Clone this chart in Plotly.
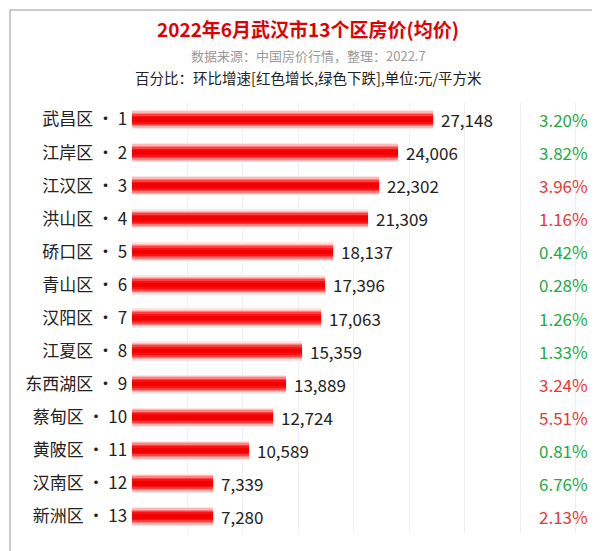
import plotly.graph_objects as go

districts = ["武昌区","江岸区","江汉区","洪山区","硚口区","青山区","汉阳区","江夏区","东西湖区","蔡甸区","黄陂区","汉南区","新洲区"]
prices = [27148,24006,22302,21309,18137,17396,17063,15359,13889,12724,10589,7339,7280]
pcts = ["3.20%","3.82%","3.96%","1.16%","0.42%","0.28%","1.26%","1.33%","3.24%","5.51%","0.81%","6.76%","2.13%"]
up = [False,False,True,True,False,False,False,False,True,True,False,False,True]

labels = [f"{d} · {i+1}" for i, d in enumerate(districts)]
fig = go.Figure()
layers = [(0.58, "#ffe4e4"), (0.50, "#ffb8b8"), (0.42, "#ff8080"), (0.34, "#ff4040"), (0.24, "#ff1010"), (0.14, "#f00000")]
for w, c in layers:
    fig.add_bar(y=labels, x=prices, orientation="h", width=w, marker=dict(color=c, line_width=0), hoverinfo="skip")
for lab, v, p, u in zip(labels, prices, pcts, up):
    fig.add_annotation(x=v, y=lab, text=f"{v:,}", showarrow=False, xanchor="left", xshift=6,
                       font=dict(size=17, color="#222"))
    fig.add_annotation(x=1, xref="paper", y=lab, yref="y", text=p, showarrow=False, xanchor="right", xshift=-8,
                       font=dict(size=17, color="#e53935" if u else "#22aa44"))
W, H = 600, 551
T, B, L = 95, 26, 124
PH = H - T - B
PW = 590 - L
cx = (300 - L) / PW
texts = [("2022年6月武汉市13个区房价(均价)", 21, 19, "#e00000", True),
         ("数据来源：中国房价行情，整理：2022.7", 48, 13, "#999", False),
         ("百分比：环比增速[红色增长,绿色下跌],单位:元/平方米", 70, 14.5, "#222", False)]
for t, ypx, s, c, b in texts:
    fig.add_annotation(x=cx, xref="paper", y=1 + (T - ypx) / PH, yref="paper", text=f"<b>{t}</b>" if b else t,
                       showarrow=False, yanchor="middle", font=dict(size=s, color=c))
fig.add_shape(type="rect", xref="paper", yref="paper", x0=-(L - 2) / PW, x1=1 + 1 / PW, y0=-(B - 3) / PH, y1=1 + (T - 2) / PH,
              line=dict(color="#bbbbbb", width=1.5), layer="above")
fig.update_layout(width=W, height=H, margin=dict(l=L, r=W - 590, t=T, b=B), barmode="overlay",
                  showlegend=False, plot_bgcolor="white", paper_bgcolor="white", bargap=0,
                  font=dict(family="Noto Sans CJK SC"))
fig.update_xaxes(range=[0, 42000], dtick=5000, showticklabels=False, showgrid=True, gridcolor="#eeeeee", zeroline=False)
fig.update_yaxes(autorange="reversed", tickfont=dict(size=17, color="#222"), ticks="", ticksuffix=" ")
fig.write_html("out.html")
